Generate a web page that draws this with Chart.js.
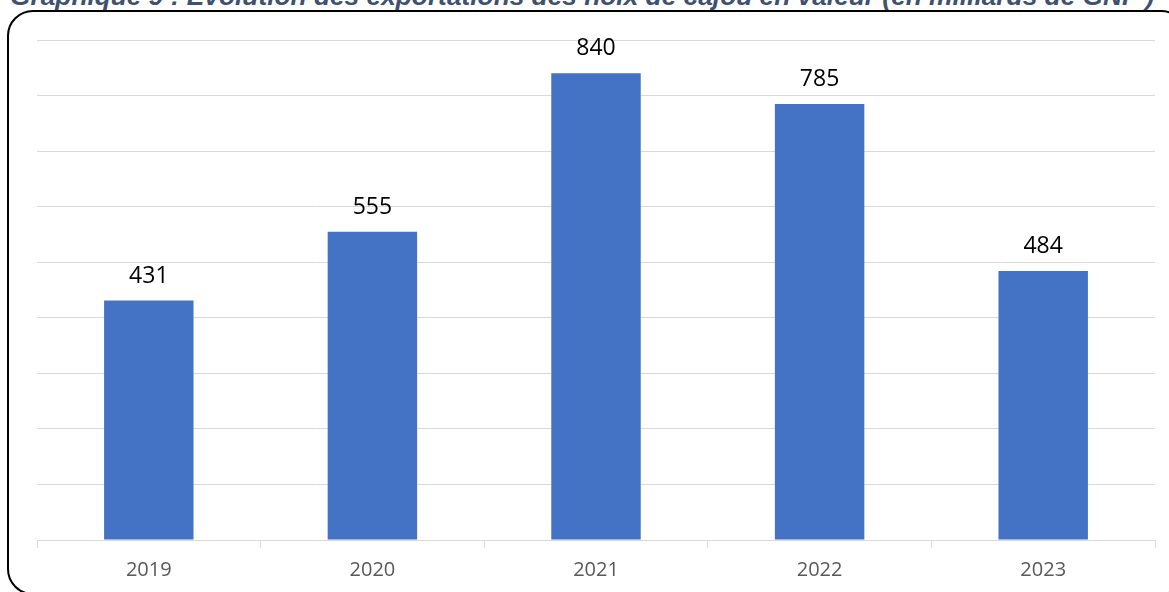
<!DOCTYPE html>
<html>
<head>
<meta charset="utf-8">
<script src="https://cdn.jsdelivr.net/npm/chart.js@4"></script>
<style>
  html, body { margin: 0; padding: 0; background: #fff; overflow: hidden; }
  #wrap { position: relative; width: 1169px; height: 592px; }
  #frame {
    position: absolute; left: 7px; top: 10px; width: 1180px; height: 585px;
    border: 2px solid #000; border-radius: 26px; box-sizing: border-box;
  }
  #title {
    position: absolute; left: 10px; top: -17px; white-space: nowrap;
    font: italic bold 26.3px/26px "Liberation Sans", Arial, sans-serif; color: #3f5170;
  }
  canvas { position: absolute; left: 0; top: 0; }
</style>
</head>
<body>
<div id="wrap">
  <div id="frame"></div>
  <div id="title">Graphique 9 : Evolution des exportations des noix de cajou en valeur (en milliards de GNF )</div>
  <canvas id="myChart" width="1169" height="592"></canvas>
</div>
<script>
// chart data
const years = ['2019', '2020', '2021', '2022', '2023'];
const exportValues = [431, 555, 840, 785, 484];
const yMax = 900;
const yStep = 100;

//Draws the value above each bar
const valueLabels = {
  id: 'valueLabels',
  afterDatasetsDraw(chart) {
    const ctx = chart.ctx;
    const meta = chart.getDatasetMeta(0);
    ctx.save();
    ctx.font = '23px "Open Sans", sans-serif';
    ctx.fillStyle = '#000';
    ctx.textAlign = 'center';
    ctx.textBaseline = 'alphabetic';
    meta.data.forEach((bar, i) => {
      ctx.fillText(String(exportValues[i]), bar.x, bar.y - 18);
    });
    ctx.restore();
  }
};

const ctx = document.getElementById('myChart').getContext('2d');
new Chart(ctx, {
  type: 'bar',
  data: {
    labels: years,
    datasets: [{
      data: exportValues,
      backgroundColor: '#4472C4',
      borderWidth: 0,
      barPercentage: 0.8,
      categoryPercentage: 0.5,
    }],
  },
  options: {
    responsive: false,
    animation: false,
    layout: { padding: { left: 37, right: 14, top: 40, bottom: 0 } },
    plugins: { legend: { display: false }, tooltip: { enabled: false } },
    scales: {
      x: {
        grid: { offset: true, drawOnChartArea: false, drawTicks: true, tickLength: 8, color: '#d9d9d9' },
        border: { display: true, color: '#d9d9d9', width: 1 },
        ticks: { color: '#595959', padding: 10, font: { family: '"Open Sans", sans-serif', size: 20 } },
      },
      y: {
        min: 0,
        max: yMax,
        ticks: { display: false, stepSize: yStep },
        grid: { color: '#d9d9d9', drawTicks: false },
        border: { display: false },
      },
    },
  },
  plugins: [valueLabels],
});
</script>
</body>
</html>
